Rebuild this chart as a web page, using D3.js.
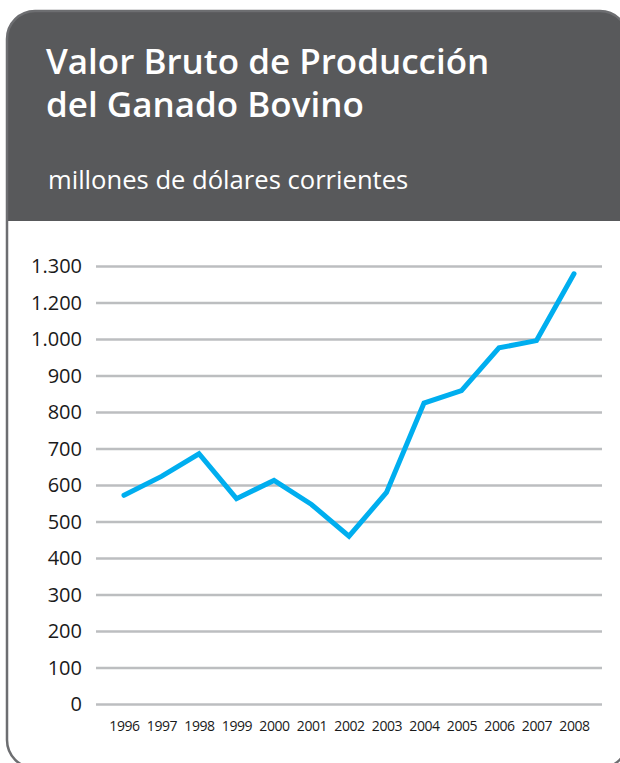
<!DOCTYPE html>
<html>
<head>
<meta charset="utf-8">
<script src="https://cdn.jsdelivr.net/npm/d3@7"></script>
<style>
  body { margin: 0; background: #ffffff; }
  svg { display: block; }
</style>
</head>
<body>
<div id="chart"></div>
<script>
// Data
const years = ['1996', '1997', '1998', '1999', '2000', '2001', '2002', '2003', '2004', '2005', '2006', '2007', '2008'];
const valores = [573, 625, 687, 564, 614, 548, 461, 581, 826, 860, 977, 997, 1280];

// the source chart skips 1.100 on its axis, so ticks sit at even steps
const tickValues = [0, 100, 200, 300, 400, 500, 600, 700, 800, 900, 1000, 1200, 1300];

const titleLines = ['Valor Bruto de Producción', 'del Ganado Bovino'];
const subtitle = 'millones de dólares corrientes';

const width = 620, height = 763;
const card = {x: 7, y: 11, w: 621, h: 757, r: 28, headerH: 210};
const plot = {left: 96, right: 602, top: 266.5, bottom: 704.5};

const svg = d3.select('#chart').append('svg')
    .attr('width', width)
    .attr('height', height);

svg.append('clipPath').attr('id', 'cardClip')
    .append('rect')
    .attr('x', card.x).attr('y', card.y)
    .attr('width', card.w).attr('height', card.h)
    .attr('rx', card.r).attr('ry', card.r);

// card background
svg.append('rect')
    .attr('x', card.x).attr('y', card.y)
    .attr('width', card.w).attr('height', card.h)
    .attr('rx', card.r).attr('ry', card.r)
    .style('fill', '#ffffff');

// dark header band
svg.append('rect')
    .attr('clip-path', 'url(#cardClip)')
    .attr('x', card.x).attr('y', card.y)
    .attr('width', card.w).attr('height', card.headerH)
    .style('fill', '#58595b');

// card border
svg.append('rect')
    .attr('x', card.x).attr('y', card.y)
    .attr('width', card.w).attr('height', card.h)
    .attr('rx', card.r).attr('ry', card.r)
    .style('fill', 'none')
    .style('stroke', '#6d6e71')
    .style('stroke-width', 2.5);

// Title + subtitle
svg.append('g').selectAll('text')
    .data(titleLines)
    .enter().append('text')
    .attr('x', 46)
    .attr('y', (d, i) => 74 + i * 43)
    .style('font-family', '"Open Sans", sans-serif')
    .style('font-weight', 600)
    .style('font-size', '35px')
    .style('fill', '#ffffff')
    .text(d => d);

svg.append('text')
    .attr('x', 48)
    .attr('y', 189)
    .style('font-family', '"Open Sans", sans-serif')
    .style('font-size', '25.6px')
    .style('fill', '#ffffff')
    .text(subtitle);

// Scales
let y = d3.scaleLinear()
    .domain([0, 1000, 1200, 1300])
    .range([plot.bottom,
            plot.bottom - (plot.bottom - plot.top) * 10 / 12,
            plot.bottom - (plot.bottom - plot.top) * 11 / 12,
            plot.top]);

let x = d3.scalePoint()
    .domain(years)
    .range([124, 574]);

const locale = d3.formatLocale({decimal: ',', thousands: '.', grouping: [3], currency: ['$', '']});
const fmt = locale.format(',d');

// Gridlines
svg.append('g').selectAll('line')
    .data(tickValues)
    .enter().append('line')
    .attr('x1', plot.left)
    .attr('x2', plot.right)
    .attr('y1', d => y(d))
    .attr('y2', d => y(d))
    .style('stroke', '#bcbec0')
    .style('stroke-width', 2.5);

// Y axis labels
let yAxis = svg.append('g')
    .attr('transform', 'translate(82,0)')
    .call(d3.axisLeft(y).tickValues(tickValues).tickFormat(fmt).tickSize(0).tickPadding(0));
yAxis.select('.domain').remove();
yAxis.selectAll('text')
    .style('font-family', '"Open Sans", sans-serif')
    .style('font-size', '20px')
    .style('fill', '#1a1a1a');

// X axis labels
let xAxis = svg.append('g')
    .attr('transform', 'translate(0,721)')
    .call(d3.axisBottom(x).tickSize(0).tickPadding(0));
xAxis.select('.domain').remove();
xAxis.selectAll('text')
    .style('font-family', '"Open Sans", sans-serif')
    .style('font-size', '14px')
    .style('letter-spacing', '-0.4px')
    .style('fill', '#1a1a1a');

// Line
let line = d3.line()
    .x((d, i) => x(years[i]))
    .y(d => y(d));

svg.append('path')
    .datum(valores)
    .attr('d', line)
    .style('fill', 'none')
    .style('stroke', '#00aeef')
    .style('stroke-width', 5)
    .style('stroke-linecap', 'round')
    .style('stroke-linejoin', 'miter');
</script>
</body>
</html>
